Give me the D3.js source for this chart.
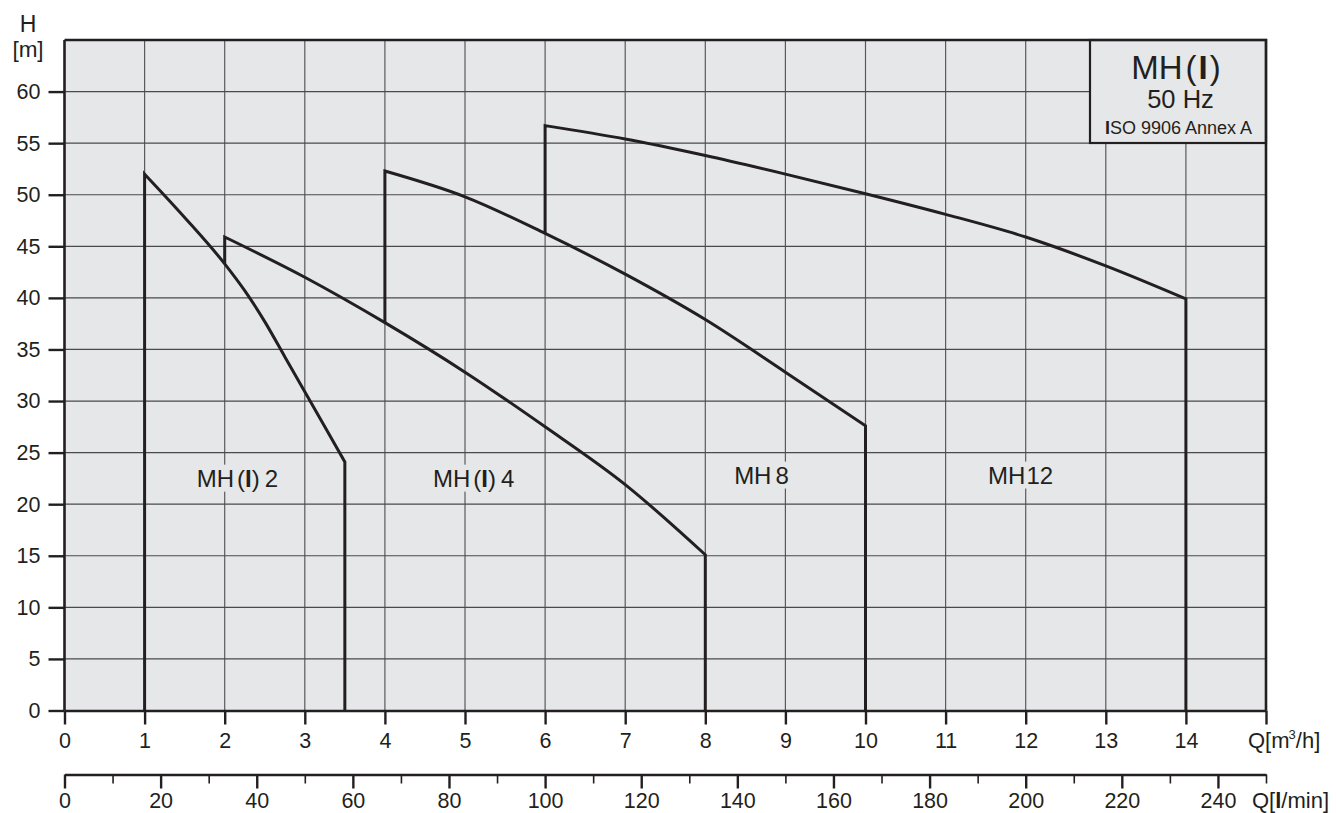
<!DOCTYPE html>
<html>
<head>
<meta charset="utf-8">
<script src="https://cdn.jsdelivr.net/npm/d3@7"></script>
<style>
  html, body { margin: 0; padding: 0; background: #ffffff; }
  svg { display: block; font-family: "Liberation Sans", Arial, sans-serif; }
</style>
</head>
<body>
<svg id="chart" width="1336" height="813"></svg>
<script>
// ---- data ----
const qTicks = [0,1,2,3,4,5,6,7,8,9,10,11,12,13,14,15];
const qTickLabels = ["0","1","2","3","4","5","6","7","8","9","10","11","12","13","14",""];
const hTicks = [0,5,10,15,20,25,30,35,40,45,50,55,60];
const lminMajor = [0,20,40,60,80,100,120,140,160,180,200,220,240];
const lminMinor = [10,30,50,70,90,110,130,150,170,190,210,230,250];

const seriesNames = ["MH(I)2", "MH(I)4", "MH8", "MH12"];
const qMH2  = [1, 1.5, 2, 2.25, 2.5, 2.75, 3, 3.5];
const hMH2  = [52, 47.8, 43.3, 40.7, 37.7, 34.3, 30.9, 24.1];
const qMH4  = [2, 3, 4, 5, 6, 7, 8];
const hMH4  = [45.9, 42.0, 37.6, 32.8, 27.5, 21.9, 15.1];
const qMH8  = [4, 5, 6, 7, 8, 9, 10];
const hMH8  = [52.3, 49.8, 46.25, 42.3, 37.9, 32.8, 27.6];
const qMH12 = [6, 7, 8, 9, 10, 11, 12, 13, 14];
const hMH12 = [56.7, 55.4, 53.8, 52.0, 50.1, 48.1, 45.9, 43.1, 39.9];
// head at which each curve's left vertical edge starts (bottom of the step)
const leftBaseH = [0, 43.3, 37.6, 46.25];
// label anchor (Q, H) of each curve label (start of text, baseline)
const labelQ = [1.65, 4.6, 8.36, 11.53];
const labelH = [21.7, 21.7, 22.0, 22.0];

// ---- layout ----
const svg = d3.select("#chart");
const X0 = 64.5, X1 = 1266, Y0 = 710.5, YT = 40;
const x = d3.scaleLinear().domain([0, 15]).range([X0, X1]);
const y = d3.scaleLinear().domain([0, 65]).range([Y0, YT]);
const xl = d3.scaleLinear().domain([0, 250]).range([X0, X1]);
const ink = "#231f20";
const bg = "#e6e7e8";
const FF = "Liberation Sans, Arial, sans-serif";

// plot background
svg.append("rect").attr("x", X0).attr("y", YT).attr("width", X1 - X0).attr("height", Y0 - YT).attr("fill", bg);

// grid
const grid = svg.append("g");
grid.selectAll("line.v").data(qTicks.filter(d => d > 0 && d < 15)).join("line")
  .attr("x1", d => x(d)).attr("x2", d => x(d)).attr("y1", YT).attr("y2", Y0)
  .attr("stroke", "#5a5a5a").attr("stroke-width", 1.2);
grid.selectAll("line.h").data(hTicks.filter(d => d > 0)).join("line")
  .attr("x1", X0).attr("x2", X1).attr("y1", d => y(d)).attr("y2", d => y(d))
  .attr("stroke", "#4a4a4a").attr("stroke-width", 1.2);

// curve labels (with background knock-out on grid)
const labels = svg.append("g").attr("font-size", 24).attr("fill", ink);
function addLabel(i, parts) {
  const t = labels.append("text").attr("x", x(labelQ[i])).attr("y", y(labelH[i]));
  parts.forEach(p => {
    const s = t.append("tspan").text(p.t);
    if (p.b) s.attr("font-weight", "bold");
    if (p.dx) s.attr("dx", p.dx);
  });
  const bb = t.node().getBBox();
  labels.insert("rect", "text").attr("x", bb.x - 2).attr("y", bb.y).attr("width", bb.width + 4).attr("height", bb.height)
    .attr("fill", bg);
}
addLabel(0, [{t:"MH"}, {t:"(", dx:3}, {t:"I", b:true}, {t:")"}, {t:"2", dx:5}]);
addLabel(1, [{t:"MH"}, {t:"(", dx:3}, {t:"I", b:true}, {t:")"}, {t:"4", dx:5}]);
addLabel(2, [{t:"MH"}, {t:"8", dx:4}]);
addLabel(3, [{t:"MH"}, {t:"12", dx:1}]);

// curves
const qs = [qMH2, qMH4, qMH8, qMH12];
const hs = [hMH2, hMH4, hMH8, hMH12];
const curveGen = d3.line().x(d => x(d[0])).y(d => y(d[1])).curve(d3.curveMonotoneX);
const curves = svg.append("g");
qs.forEach((q, i) => {
  const pts = q.map((v, j) => [v, hs[i][j]]);
  const first = pts[0], last = pts[pts.length - 1];
  const body = curveGen(pts).replace(/^M/, "L");
  const d = "M" + x(first[0]) + "," + y(leftBaseH[i]) + body + "L" + x(last[0]) + "," + y(0);
  curves.append("path").attr("d", d).attr("fill", "none").attr("stroke", ink)
    .attr("stroke-width", 3).attr("stroke-linejoin", "miter");
});

// legend box
const lb = svg.append("g");
lb.append("rect").attr("x", 1090).attr("y", YT).attr("width", X1 - 1090).attr("height", 103)
  .attr("fill", bg).attr("stroke", ink).attr("stroke-width", 2.2);
const t1 = lb.append("text").attr("x", 1176).attr("y", 78.5).attr("text-anchor", "middle").attr("font-size", 33).attr("fill", ink);
t1.append("tspan").text("MH");
t1.append("tspan").text("(").attr("dx", 3);
t1.append("tspan").text("I").attr("font-weight", "bold").attr("dx", 2);
t1.append("tspan").text(")").attr("dx", 2);
lb.append("text").attr("x", 1180.5).attr("y", 107.5).attr("text-anchor", "middle").attr("font-size", 25.5).attr("fill", ink).text("50 Hz");
const t3 = lb.append("text").attr("x", 1178.5).attr("y", 133.5).attr("text-anchor", "middle").attr("font-size", 18).attr("fill", ink);
t3.append("tspan").text("I").attr("font-weight", "bold");
t3.append("tspan").text("SO 9906 Annex A");

// frame (top and right)
svg.append("path").attr("d", `M${X0},${YT}H${X1}V${Y0}`).attr("fill", "none").attr("stroke", ink).attr("stroke-width", 2.6);

// y axis
const yAxis = d3.axisLeft(y).tickValues(hTicks).tickSize(16).tickPadding(8).tickSizeOuter(0);
const gy = svg.append("g").attr("transform", `translate(${X0},0)`).call(yAxis);
gy.select(".domain").attr("d", `M0,${Y0}V${YT}`).attr("stroke", ink).attr("stroke-width", 2.6);
gy.selectAll(".tick line").attr("stroke", ink).attr("stroke-width", 2.4);
gy.selectAll(".tick text").attr("font-size", 21.5).attr("fill", ink).attr("font-family", FF);

// x axis (m3/h)
const xAxis = d3.axisBottom(x).tickValues(qTicks).tickFormat((d, i) => qTickLabels[i]).tickSize(14).tickPadding(8).tickSizeOuter(0);
const gx = svg.append("g").attr("transform", `translate(0,${Y0})`).call(xAxis);
gx.select(".domain").attr("stroke", ink).attr("stroke-width", 2.6);
gx.selectAll(".tick line").attr("stroke", ink).attr("stroke-width", 2.4);
gx.selectAll(".tick text").attr("font-size", 21.5).attr("fill", ink).attr("font-family", FF);

// second x axis (l/min)
const LY = 774.5;
const xlAxisMinor = d3.axisBottom(xl).tickValues(lminMinor).tickFormat("").tickSize(9).tickSizeOuter(0);
const glm = svg.append("g").attr("transform", `translate(0,${LY})`).call(xlAxisMinor);
glm.select(".domain").remove();
glm.selectAll(".tick line").attr("stroke", ink).attr("stroke-width", 1.6);
const xlAxis = d3.axisBottom(xl).tickValues(lminMajor).tickSize(14).tickPadding(4).tickSizeOuter(0);
const gl = svg.append("g").attr("transform", `translate(0,${LY})`).call(xlAxis);
gl.select(".domain").attr("stroke", ink).attr("stroke-width", 2.6);
gl.selectAll(".tick line").attr("stroke", ink).attr("stroke-width", 2.4);
gl.selectAll(".tick text").attr("font-size", 21.5).attr("fill", ink).attr("font-family", FF);

// axis titles
const tt = svg.append("g").attr("fill", ink).attr("font-size", 22);
tt.append("text").attr("x", 28).attr("y", 32).attr("text-anchor", "middle").attr("font-size", 23).text("H");
tt.append("text").attr("x", 28).attr("y", 57).attr("text-anchor", "middle").attr("font-size", 22.5).text("[m]");
const qt = tt.append("text").attr("x", 1248).attr("y", 748);
qt.append("tspan").text("Q[m");
qt.append("tspan").text("3").attr("font-size", 13).attr("dy", -9).attr("dx", -1);
qt.append("tspan").text("/h]").attr("dy", 9);
const ql = tt.append("text").attr("x", 1252).attr("y", 808);
ql.append("tspan").text("Q[");
ql.append("tspan").text("l").attr("font-weight", "bold");
ql.append("tspan").text("/min]");
</script>
</body>
</html>
